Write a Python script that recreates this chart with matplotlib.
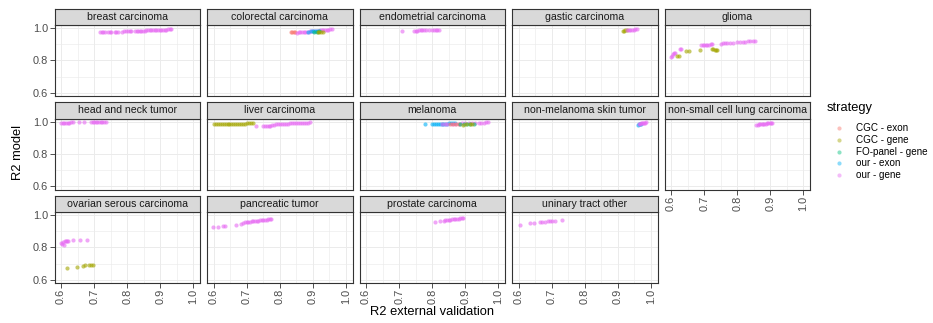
import matplotlib
matplotlib.use("Agg")
import matplotlib.pyplot as plt
from matplotlib.ticker import MultipleLocator, FixedLocator

plt.rcParams['font.family'] = ['Liberation Sans', 'DejaVu Sans']

# ---------------------------------------------------------------- data
STRATEGIES = ["CGC - exon", "CGC - gene", "FO-panel - gene", "our - exon", "our - gene"]
COLORS = ["#F8766D", "#A3A500", "#00BF7D", "#00B0F6", "#E76BF3"]
CE, CG, FO, OE, OG = STRATEGIES

X_TICKS = [0.6, 0.7, 0.8, 0.9, 1.0]
Y_TICKS = [0.6, 0.8, 1.0]

breast_our_gene_x = [0.718, 0.723, 0.728, 0.733, 0.742, 0.747, 0.752, 0.762, 0.767, 0.772,
                     0.785, 0.790, 0.795, 0.803, 0.808, 0.812, 0.823, 0.828, 0.833, 0.838,
                     0.843, 0.848, 0.853, 0.858, 0.863, 0.868, 0.873, 0.878, 0.883, 0.888,
                     0.893, 0.898, 0.903, 0.908, 0.913, 0.918, 0.923, 0.928, 0.933]
breast_our_gene_y = [0.975, 0.976, 0.976, 0.977, 0.977, 0.977, 0.978, 0.978, 0.978, 0.979,
                     0.979, 0.980, 0.980, 0.982, 0.983, 0.983, 0.982, 0.983, 0.983, 0.984,
                     0.984, 0.985, 0.985, 0.986, 0.986, 0.987, 0.987, 0.988, 0.988, 0.989,
                     0.989, 0.990, 0.990, 0.991, 0.991, 0.992, 0.993, 0.993, 0.994]

crc_cgc_exon_x = [0.834, 0.838, 0.842, 0.846]
crc_cgc_exon_y = [0.978, 0.977, 0.977, 0.976]
crc_our_gene_x = [0.852, 0.857, 0.862, 0.867, 0.872, 0.877, 0.882, 0.887, 0.892, 0.897, 0.902,
                  0.907, 0.912, 0.917, 0.922, 0.927, 0.932, 0.937, 0.942, 0.947, 0.952, 0.957]
crc_our_gene_y = [0.972, 0.974, 0.975, 0.976, 0.977, 0.978, 0.978, 0.979, 0.980, 0.981, 0.982,
                  0.983, 0.984, 0.985, 0.986, 0.987, 0.988, 0.989, 0.990, 0.992, 0.993, 0.995]
crc_our_exon_x = [0.885, 0.893, 0.900, 0.907, 0.913, 0.918]
crc_our_exon_y = [0.979, 0.980, 0.981, 0.982, 0.983, 0.984]
crc_fo_gene_x = [0.905, 0.912, 0.920]
crc_fo_gene_y = [0.978, 0.979, 0.980]
crc_cgc_gene_x = [0.915, 0.920, 0.925, 0.930]
crc_cgc_gene_y = [0.974, 0.975, 0.976, 0.977]

endo_our_gene_x = [0.708, 0.745, 0.750, 0.755, 0.760, 0.765, 0.770, 0.775, 0.780, 0.790,
                   0.800, 0.805, 0.810, 0.815, 0.820]
endo_our_gene_y = [0.984, 0.984, 0.985, 0.985, 0.986, 0.986, 0.987, 0.988, 0.988, 0.989,
                   0.990, 0.990, 0.991, 0.991, 0.992]

gastric_cgc_gene_x = [0.915, 0.919, 0.923, 0.927]
gastric_cgc_gene_y = [0.985, 0.985, 0.986, 0.986]
gastric_our_gene_x = [0.928, 0.933, 0.938, 0.943, 0.948, 0.953, 0.957]
gastric_our_gene_y = [0.988, 0.989, 0.990, 0.991, 0.992, 0.993, 0.994]

glioma_our_gene_x = [0.601, 0.604, 0.607, 0.610, 0.613, 0.627, 0.631, 0.690, 0.695, 0.700,
                     0.705, 0.710, 0.715, 0.720, 0.725, 0.750, 0.756, 0.762, 0.770, 0.778,
                     0.786, 0.800, 0.808, 0.816, 0.824, 0.832, 0.840, 0.848, 0.854]
glioma_our_gene_y = [0.822, 0.830, 0.838, 0.845, 0.848, 0.873, 0.870, 0.893, 0.895, 0.896,
                     0.897, 0.898, 0.899, 0.900, 0.900, 0.905, 0.906, 0.907, 0.908, 0.909,
                     0.910, 0.914, 0.915, 0.916, 0.917, 0.918, 0.919, 0.920, 0.921]
glioma_cgc_gene_x = [0.618, 0.624, 0.645, 0.655, 0.687, 0.724, 0.728, 0.732, 0.736, 0.740]
glioma_cgc_gene_y = [0.826, 0.827, 0.860, 0.858, 0.866, 0.870, 0.869, 0.868, 0.867, 0.865]

hn_our_gene_x = [0.600, 0.605, 0.610, 0.615, 0.620, 0.625, 0.630, 0.635, 0.655, 0.668,
                 0.690, 0.695, 0.700, 0.705, 0.710, 0.715, 0.720, 0.725, 0.730, 0.735]
hn_our_gene_y = [0.994, 0.994, 0.995, 0.995, 0.995, 0.995, 0.996, 0.996, 0.996, 0.996,
                 0.997, 0.997, 0.997, 0.997, 0.997, 0.998, 0.998, 0.998, 0.998, 0.998]

liver_cgc_gene_x = [0.600, 0.606, 0.612, 0.618, 0.624, 0.630, 0.636, 0.642, 0.648, 0.654, 0.660,
                    0.666, 0.672, 0.678, 0.684, 0.690, 0.696, 0.702, 0.708, 0.714, 0.720]
liver_cgc_gene_y = [0.986, 0.986, 0.986, 0.987, 0.987, 0.987, 0.987, 0.987, 0.988, 0.988, 0.988,
                    0.988, 0.988, 0.989, 0.989, 0.989, 0.989, 0.990, 0.990, 0.990, 0.990]
liver_our_gene_x = [0.728, 0.750, 0.755, 0.760, 0.766, 0.772, 0.778, 0.784, 0.790, 0.796,
                    0.802, 0.808, 0.814, 0.820, 0.826, 0.832, 0.838, 0.844, 0.850, 0.856,
                    0.862, 0.868, 0.874, 0.880, 0.886, 0.892]
liver_our_gene_y = [0.972, 0.974, 0.974, 0.975, 0.976, 0.976, 0.977, 0.980, 0.983, 0.985,
                    0.986, 0.987, 0.988, 0.988, 0.989, 0.990, 0.990, 0.991, 0.992, 0.992,
                    0.993, 0.993, 0.994, 0.995, 0.995, 0.996]

mel_our_exon_x = [0.778, 0.798, 0.804, 0.810, 0.816, 0.822, 0.828, 0.834, 0.840, 0.846,
                  0.852, 0.858, 0.864, 0.870]
mel_our_exon_y = [0.986, 0.986, 0.987, 0.987, 0.988, 0.988, 0.988, 0.989, 0.989, 0.989,
                  0.990, 0.990, 0.990, 0.991]
mel_our_gene_x = [0.830, 0.838, 0.846, 0.860, 0.870, 0.880, 0.890, 0.900, 0.910, 0.920,
                  0.930, 0.940, 0.948, 0.956, 0.964, 0.970]
mel_our_gene_y = [0.988, 0.989, 0.989, 0.987, 0.988, 0.989, 0.990, 0.990, 0.991, 0.991,
                  0.992, 0.993, 0.994, 0.995, 0.996, 0.997]
mel_cgc_exon_x = [0.855, 0.862, 0.872, 0.880]
mel_cgc_exon_y = [0.985, 0.986, 0.986, 0.987]
mel_fo_gene_x = [0.885, 0.895, 0.905, 0.915, 0.925]
mel_fo_gene_y = [0.984, 0.985, 0.985, 0.986, 0.986]
mel_cgc_gene_x = [0.893, 0.903, 0.913, 0.920]
mel_cgc_gene_y = [0.982, 0.983, 0.983, 0.984]

nmsc_our_exon_x = [0.962, 0.964, 0.967, 0.970]
nmsc_our_exon_y = [0.982, 0.984, 0.986, 0.985]
nmsc_our_gene_x = [0.965, 0.968, 0.971, 0.974, 0.977, 0.980, 0.983, 0.986]
nmsc_our_gene_y = [0.988, 0.989, 0.990, 0.991, 0.992, 0.993, 0.995, 0.996]

nsclc_our_gene_x = [0.858, 0.862, 0.866, 0.870, 0.874, 0.878, 0.882, 0.886, 0.890, 0.894,
                    0.898, 0.902, 0.905]
nsclc_our_gene_y = [0.981, 0.982, 0.984, 0.985, 0.986, 0.987, 0.988, 0.989, 0.990, 0.991,
                    0.992, 0.993, 0.994]

ov_our_gene_x = [0.600, 0.603, 0.606, 0.608, 0.611, 0.614, 0.617, 0.620, 0.637, 0.657, 0.679]
ov_our_gene_y = [0.830, 0.822, 0.835, 0.815, 0.838, 0.840, 0.842, 0.843, 0.846, 0.846, 0.846]
ov_cgc_gene_x = [0.617, 0.647, 0.667, 0.672, 0.685, 0.690, 0.695]
ov_cgc_gene_y = [0.676, 0.682, 0.688, 0.690, 0.692, 0.693, 0.694]

panc_our_gene_x = [0.598, 0.613, 0.628, 0.633, 0.668, 0.683, 0.690, 0.695, 0.700, 0.705,
                   0.710, 0.715, 0.720, 0.725, 0.730, 0.735, 0.740, 0.745, 0.750, 0.755,
                   0.760, 0.765, 0.770, 0.773]
panc_our_gene_y = [0.924, 0.928, 0.932, 0.935, 0.938, 0.945, 0.950, 0.955, 0.957, 0.958,
                   0.960, 0.962, 0.964, 0.965, 0.966, 0.967, 0.968, 0.969, 0.970, 0.972,
                   0.973, 0.974, 0.974, 0.975]

pros_our_gene_x = [0.808, 0.823, 0.836, 0.840, 0.845, 0.850, 0.855, 0.860, 0.865, 0.870,
                   0.875, 0.880, 0.885, 0.890, 0.894]
pros_our_gene_y = [0.959, 0.962, 0.966, 0.968, 0.970, 0.972, 0.973, 0.975, 0.976, 0.977,
                   0.978, 0.979, 0.980, 0.981, 0.982]

uri_our_gene_x = [0.603, 0.633, 0.648, 0.665, 0.672, 0.680, 0.688, 0.695, 0.702, 0.710, 0.730]
uri_our_gene_y = [0.942, 0.950, 0.952, 0.956, 0.958, 0.960, 0.962, 0.964, 0.965, 0.966, 0.968]

panels = [
    ("breast carcinoma", [(OG, breast_our_gene_x, breast_our_gene_y)]),
    ("colorectal carcinoma", [(CE, crc_cgc_exon_x, crc_cgc_exon_y),
                              (OG, crc_our_gene_x, crc_our_gene_y),
                              (OE, crc_our_exon_x, crc_our_exon_y),
                              (FO, crc_fo_gene_x, crc_fo_gene_y),
                              (CG, crc_cgc_gene_x, crc_cgc_gene_y)]),
    ("endometrial carcinoma", [(OG, endo_our_gene_x, endo_our_gene_y)]),
    ("gastic carcinoma", [(CG, gastric_cgc_gene_x, gastric_cgc_gene_y),
                          (OG, gastric_our_gene_x, gastric_our_gene_y)]),
    ("glioma", [(OG, glioma_our_gene_x, glioma_our_gene_y),
                (CG, glioma_cgc_gene_x, glioma_cgc_gene_y)]),
    ("head and neck tumor", [(OG, hn_our_gene_x, hn_our_gene_y)]),
    ("liver carcinoma", [(CG, liver_cgc_gene_x, liver_cgc_gene_y),
                         (OG, liver_our_gene_x, liver_our_gene_y)]),
    ("melanoma", [(OE, mel_our_exon_x, mel_our_exon_y),
                  (OG, mel_our_gene_x, mel_our_gene_y),
                  (CE, mel_cgc_exon_x, mel_cgc_exon_y),
                  (FO, mel_fo_gene_x, mel_fo_gene_y),
                  (CG, mel_cgc_gene_x, mel_cgc_gene_y)]),
    ("non-melanoma skin tumor", [(OE, nmsc_our_exon_x, nmsc_our_exon_y),
                                 (OG, nmsc_our_gene_x, nmsc_our_gene_y)]),
    ("non-small cell lung carcinoma", [(OG, nsclc_our_gene_x, nsclc_our_gene_y)]),
    ("ovarian serous carcinoma", [(OG, ov_our_gene_x, ov_our_gene_y),
                                  (CG, ov_cgc_gene_x, ov_cgc_gene_y)]),
    ("pancreatic tumor", [(OG, panc_our_gene_x, panc_our_gene_y)]),
    ("prostate carcinoma", [(OG, pros_our_gene_x, pros_our_gene_y)]),
    ("uninary tract other", [(OG, uri_our_gene_x, uri_our_gene_y)]),
]

# ---------------------------------------------------------------- layout (pixels)
W, H = 933, 323
COL_LEFT = [54.5, 207.0, 359.5, 512.0, 664.5]
PANEL_W = 145.5
STRIP_TOP = [8.5, 102.0, 195.5]
STRIP_H = 16.5
PANEL_H = 71.0
NCOL = 5

BORDER = "#333333"
GRID = "#EBEBEB"
TICKTXT = "#4D4D4D"
POINT_SIZE = 9
POINT_ALPHA = 0.6


def fig_rect(x, y, w, h):
    return [x / W, 1 - (y + h) / H, w / W, h / H]


fig = plt.figure(figsize=(W / 100, H / 100), dpi=100)
color_of = dict(zip(STRATEGIES, COLORS))
n = len(panels)

for i, (title, series) in enumerate(panels):
    r, c = divmod(i, NCOL)
    x0 = COL_LEFT[c]
    top = STRIP_TOP[r] + STRIP_H

    ax = fig.add_axes(fig_rect(x0, top, PANEL_W, PANEL_H))
    ax.set_xlim(0.58, 1.02)
    ax.set_ylim(0.58, 1.02)
    ax.xaxis.set_major_locator(FixedLocator(X_TICKS))
    ax.xaxis.set_minor_locator(MultipleLocator(0.05))
    ax.yaxis.set_major_locator(FixedLocator(Y_TICKS))
    ax.yaxis.set_minor_locator(MultipleLocator(0.1))
    ax.grid(True, which="major", color=GRID, lw=0.7)
    ax.grid(True, which="minor", color=GRID, lw=0.45)
    ax.set_axisbelow(True)
    for sp in ax.spines.values():
        sp.set_color(BORDER)
        sp.set_linewidth(0.8)

    for strat, xs, ys in series:
        ax.scatter(xs, ys, s=POINT_SIZE, color=color_of[strat], alpha=POINT_ALPHA,
                   linewidths=0, zorder=3)

    is_bottom = (i + NCOL) >= n
    ax.tick_params(which="minor", length=0)
    ax.tick_params(which="major", length=3.3, width=0.6, color=BORDER,
                   labelsize=7.9, labelcolor=TICKTXT, pad=1.2)
    if c == 0:
        ax.set_yticklabels([f"{v:.1f}" for v in Y_TICKS])
    else:
        ax.tick_params(axis="y", which="major", length=0, labelleft=False)
    if is_bottom:
        ax.set_xticklabels([f"{v:.1f}" for v in X_TICKS], rotation=90, va="top", ha="center")
    else:
        ax.tick_params(axis="x", which="major", length=0, labelbottom=False)

    sax = fig.add_axes(fig_rect(x0, STRIP_TOP[r], PANEL_W, STRIP_H))
    sax.set_facecolor("#D9D9D9")
    sax.set_xticks([])
    sax.set_yticks([])
    for sp in sax.spines.values():
        sp.set_color(BORDER)
        sp.set_linewidth(0.8)
    sax.text(0.5, 0.5, title, ha="center", va="center", fontsize=7.6,
             color="#1A1A1A", transform=sax.transAxes)

# axis titles
fig.text(432 / W, 1 - 312 / H, "R2 external validation", ha="center", va="center",
         fontsize=9.3, color="black")
fig.text(18 / W, 1 - 153 / H, "R2 model", ha="center", va="center", rotation=90,
         fontsize=9.3, color="black")

# legend
lax = fig.add_axes([0, 0, 1, 1], facecolor="none")
lax.set_xlim(0, W)
lax.set_ylim(H, 0)
lax.axis("off")
lax.text(827, 108, "strategy", ha="left", va="center", fontsize=9.3, color="black")
for k, (name, col) in enumerate(zip(STRATEGIES, COLORS)):
    yy = 128 + 11.8 * k
    lax.scatter([839], [yy], s=POINT_SIZE, color=col, alpha=0.45, linewidths=0)
    lax.text(856, yy, name, ha="left", va="center", fontsize=7.1, color="black")

fig.savefig("out.png", dpi=100)
